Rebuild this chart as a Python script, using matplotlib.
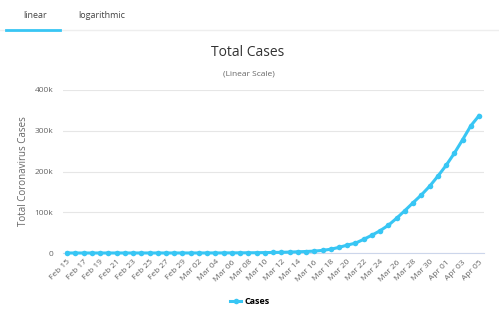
import numpy as np
import pandas as pd
import matplotlib
matplotlib.use("Agg")
import matplotlib.pyplot as plt
from matplotlib.lines import Line2D

plt.rcParams['font.family'] = ['Open Sans', 'DejaVu Sans']

# daily totals, Feb 15 .. Apr 05
dates = pd.date_range("2020-02-15", "2020-04-05", freq="D")
cases = [15, 15, 15, 15, 15, 15, 35, 35, 35, 53, 57, 60, 60, 62, 70,
         76, 101, 122, 153, 221, 319, 435, 541, 704, 994, 1301, 1697,
         2247, 2943, 3680, 4663, 6411, 9259, 13789, 19383, 24207, 33566,
         43734, 54821, 68211, 85435, 104126, 123578, 142538, 163807,
         188530, 215003, 244877, 277828, 312237, 337072]
yticks = [0, 100000, 200000, 300000, 400000]
ytick_labels = ["0", "100k", "200k", "300k", "400k"]

line_color = "#38c6f4"
grid_color = "#e6e6e6"
text_gray = "#666666"

fig = plt.figure(figsize=(4.99, 3.21), dpi=100)

# tab header
fig.text(35 / 499, 1 - 16 / 321, "linear", fontsize=6.5, color="#444444",
         ha="center", va="center")
fig.text(102 / 499, 1 - 16 / 321, "logarithmic", fontsize=6.5, color="#444444",
         ha="center", va="center")
fig.add_artist(Line2D([0, 1], [1 - 30 / 321] * 2, color="#eeeeee", lw=1))
fig.add_artist(Line2D([6 / 499, 60 / 499], [1 - 30 / 321] * 2, color=line_color, lw=2))

# titles
fig.text(248 / 499, 1 - 52 / 321, "Total Cases", fontsize=10, color="#333333",
         ha="center", va="center")
fig.text(249 / 499, 1 - 74 / 321, "(Linear Scale)", fontsize=6, color=text_gray,
         ha="center", va="center")

ax = fig.add_axes([63 / 499, 68 / 321, 421 / 499, 163 / 321])
x = np.arange(len(cases))
ax.plot(x, cases, color=line_color, lw=2.2, marker="o", ms=4,
        markeredgewidth=0, clip_on=False, zorder=3)

ax.set_xlim(-0.5, len(cases) - 0.4)
ax.set_ylim(0, 400000)
ax.set_yticks(yticks)
ax.set_yticklabels(ytick_labels)
ax.grid(axis="y", color=grid_color, lw=0.8)
ax.set_axisbelow(True)
for side in ["top", "right", "left"]:
    ax.spines[side].set_visible(False)
ax.spines["bottom"].set_color("#ccd6eb")
ax.spines["bottom"].set_linewidth(0.8)

ax.set_xticks(x[::2])
ax.set_xticklabels([d.strftime("%b %d") for d in dates[::2]],
                   rotation=45, ha="right", rotation_mode="anchor")
ax.tick_params(axis="x", length=0, labelsize=6, labelcolor=text_gray, pad=4)
ax.tick_params(axis="y", length=0, labelsize=6, labelcolor=text_gray, pad=7)
ax.set_ylabel("Total Coronavirus Cases", fontsize=7, color=text_gray, labelpad=4)

# legend
handle = Line2D([], [], color=line_color, lw=2.2, marker="o", ms=4, markeredgewidth=0)
fig.legend([handle], ["Cases"], loc="center", bbox_to_anchor=(250 / 499, 1 - 302 / 321),
           frameon=False, prop={"size": 6.5, "weight": "bold"}, handlelength=1.2,
           handletextpad=0.4)

fig.savefig("out.png", dpi=100, facecolor="white")
